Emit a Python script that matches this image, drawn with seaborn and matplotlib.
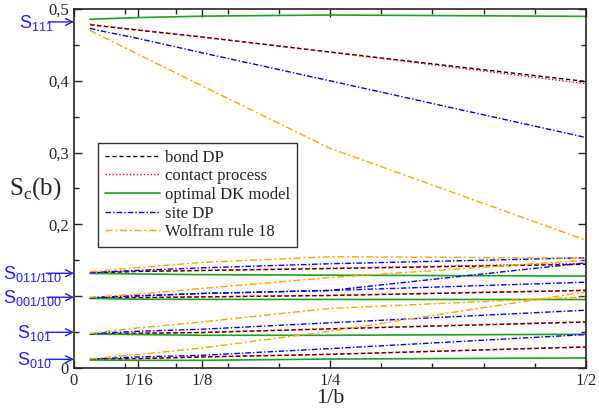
import numpy as np
import pandas as pd
import seaborn as sns
import matplotlib.pyplot as plt
from matplotlib.lines import Line2D
from matplotlib.ticker import MultipleLocator

sns.set_style("ticks")
plt.rcParams['font.family'] = ['Liberation Serif', 'DejaVu Serif']

# 1/b values of the renormalisation steps (b = 64 ... 2)
inv_b = [1/64, 1/32, 1/16, 1/8, 1/4, 1/2]

# S_111
bond_111 = [0.478, 0.4755, 0.4705, 0.461, 0.440, 0.399]
contact_111 = [0.479, 0.476, 0.471, 0.461, 0.440, 0.396]
dk_111 = [0.4857, 0.4865, 0.488, 0.490, 0.4916, 0.4897]
site_111 = [0.473, 0.468, 0.459, 0.439, 0.400, 0.321]
wolfram_111 = [0.470, 0.459, 0.437, 0.393, 0.306, 0.178]

# S_011/110
bond_011 = [0.1325, 0.133, 0.1345, 0.1358, 0.1385, 0.1445]
contact_011 = [0.1325, 0.1333, 0.135, 0.136, 0.139, 0.1456]
dk_011 = [0.1317, 0.1315, 0.131, 0.130, 0.1293, 0.128]
site_011 = [0.1325, 0.134, 0.136, 0.1395, 0.1452, 0.1535]
wolfram_011 = [0.134, 0.136, 0.140, 0.147, 0.155, 0.153]

# S_001/100
bond_001 = [0.0977, 0.0978, 0.098, 0.099, 0.101, 0.108]
contact_001 = [0.0977, 0.098, 0.0982, 0.0992, 0.1012, 0.1085]
dk_001 = [0.097, 0.0965, 0.0958, 0.0956, 0.0955, 0.0954]
site_001 = [0.0977, 0.099, 0.1005, 0.1038, 0.108, 0.1195]
site_100 = [0.0977, 0.099, 0.1005, 0.1038, 0.108, 0.1465]
wolfram_001 = [0.0985, 0.100, 0.1028, 0.1108, 0.126, 0.150]

# S_101
bond_101 = [0.0474, 0.0478, 0.0484, 0.0494, 0.0545, 0.064]
contact_101 = [0.0474, 0.0478, 0.0485, 0.0496, 0.0548, 0.0645]
dk_101 = [0.0474, 0.047, 0.0466, 0.0456, 0.0456, 0.047]
site_101 = [0.0474, 0.049, 0.0512, 0.054, 0.063, 0.0805]
wolfram_101 = [0.048, 0.051, 0.0558, 0.0642, 0.083, 0.099]

# S_010
bond_010 = [0.0121, 0.0125, 0.013, 0.0154, 0.019, 0.0293]
contact_010 = [0.0121, 0.0126, 0.0132, 0.0156, 0.0192, 0.0296]
dk_010 = [0.0112, 0.011, 0.0107, 0.0107, 0.0125, 0.014]
site_010 = [0.0121, 0.0135, 0.0154, 0.0177, 0.027, 0.0466]
wolfram_010 = [0.0125, 0.015, 0.0187, 0.0279, 0.0512, 0.106]

models = ["bond DP", "contact process", "optimal DK model", "site DP", "Wolfram rule 18"]
colors = {"bond DP": "black", "contact process": "#ff0000", "optimal DK model": "#22a022",
          "site DP": "#0000ff", "Wolfram rule 18": "#ffa500"}
dash_map = {"bond DP": (3, 2), "contact process": (1, 1.5), "optimal DK model": "",
            "site DP": (4, 1.5, 1, 1.5), "Wolfram rule 18": (5, 2, 1.5, 2)}
widths = {"bond DP": 1.0, "contact process": 1.0, "optimal DK model": 1.2,
          "site DP": 1.0, "Wolfram rule 18": 1.0}

curves = [
    ("bond DP", "111", bond_111), ("contact process", "111", contact_111),
    ("optimal DK model", "111", dk_111), ("site DP", "111", site_111),
    ("Wolfram rule 18", "111", wolfram_111),
    ("bond DP", "011", bond_011), ("contact process", "011", contact_011),
    ("optimal DK model", "011", dk_011), ("site DP", "011", site_011),
    ("Wolfram rule 18", "011", wolfram_011),
    ("bond DP", "001", bond_001), ("contact process", "001", contact_001),
    ("optimal DK model", "001", dk_001), ("site DP", "001", site_001),
    ("site DP", "100", site_100), ("Wolfram rule 18", "001", wolfram_001),
    ("bond DP", "101", bond_101), ("contact process", "101", contact_101),
    ("optimal DK model", "101", dk_101), ("site DP", "101", site_101),
    ("Wolfram rule 18", "101", wolfram_101),
    ("bond DP", "010", bond_010), ("contact process", "010", contact_010),
    ("optimal DK model", "010", dk_010), ("site DP", "010", site_010),
    ("Wolfram rule 18", "010", wolfram_010),
]

rows = []
for model, state, vals in curves:
    for x, v in zip(inv_b, vals):
        rows.append({"inv_b": x, "S": v, "model": model, "curve": f"{model} {state}"})
df = pd.DataFrame(rows)

fig = plt.figure(figsize=(5.99, 4.08), dpi=100)
ax = fig.add_axes([0.1235, 0.098, 0.8548, 0.880])

sns.lineplot(data=df, x="inv_b", y="S", hue="model", style="model", size="model",
             units="curve", estimator=None, sort=False, legend=False,
             hue_order=models, style_order=models, size_order=models,
             palette=colors, dashes=dash_map, sizes=widths, ax=ax)

ax.set_xlim(0, 0.5)
ax.set_ylim(0, 0.5)
ax.set_xticks([0, 1/16, 1/8, 1/4, 1/2])
ax.set_xticklabels(["0", "1/16", "1/8", "1/4", "1/2"])
ax.set_yticks([0, 0.1, 0.2, 0.3, 0.4, 0.5])
ax.set_yticklabels(["0", "", "0,2", "0,3", "0,4", "0,5"])
ax.xaxis.set_minor_locator(MultipleLocator(0.05))
ax.yaxis.set_minor_locator(MultipleLocator(0.05))
ax.tick_params(which="both", direction="in", top=True, right=True, labelsize=12, width=1)
ax.tick_params(which="major", length=6)
ax.tick_params(which="minor", length=3.5)
for sp in ax.spines.values():
    sp.set_linewidth(1.2)

ax.set_xlabel("1/b", fontsize=16, labelpad=0)
ax.set_ylabel(r"S$_\mathregular{c}$(b)", fontsize=18, rotation=0, ha="center", va="center")
ax.yaxis.set_label_coords(-0.076, 0.5)

# legend
handles = []
for m in models:
    d = dash_map[m]
    if d:
        h = Line2D([], [], color=colors[m], lw=widths[m], dashes=d)
    else:
        h = Line2D([], [], color=colors[m], lw=widths[m])
    handles.append(h)
leg = ax.legend(handles, models, loc="upper left", bbox_to_anchor=(0.047, 0.627),
                borderaxespad=0, fontsize=12, handlelength=3.3, handletextpad=0.3,
                labelspacing=0.16, fancybox=False, framealpha=1, borderpad=0.4)
leg.get_frame().set_edgecolor("#333333")
leg.get_frame().set_linewidth(1.0)

# state labels with arrows on the left
state_labels = [r"S$_\mathregular{111}$", r"S$_\mathregular{011/110}$",
                r"S$_\mathregular{001/100}$", r"S$_\mathregular{101}$", r"S$_\mathregular{010}$"]
state_values = [0.482, 0.132, 0.0986, 0.0498, 0.0121]
text_left_px = [19, 3, 3, 17, 17]
arrow_start_px = [48, 46, 47, 46, 46]
axis_left_px = 74
blue = "#2020ff"
for lab, yv, tx, ax0 in zip(state_labels, state_values, text_left_px, arrow_start_px):
    ax.annotate("", xy=(0, yv), xycoords=("axes fraction", "data"),
                xytext=(ax0 - axis_left_px, 0), textcoords="offset pixels",
                arrowprops=dict(arrowstyle="->,head_length=0.5,head_width=0.25",
                                color=blue, lw=1, shrinkA=0, shrinkB=0),
                annotation_clip=False)
    ax.annotate(lab, xy=(0, yv), xycoords=("axes fraction", "data"),
                xytext=(tx - axis_left_px, -6), textcoords="offset pixels",
                ha="left", va="baseline", color=blue, fontsize=13,
                family=["Liberation Sans", "DejaVu Sans"], annotation_clip=False)

fig.savefig("out.png", dpi=100)
